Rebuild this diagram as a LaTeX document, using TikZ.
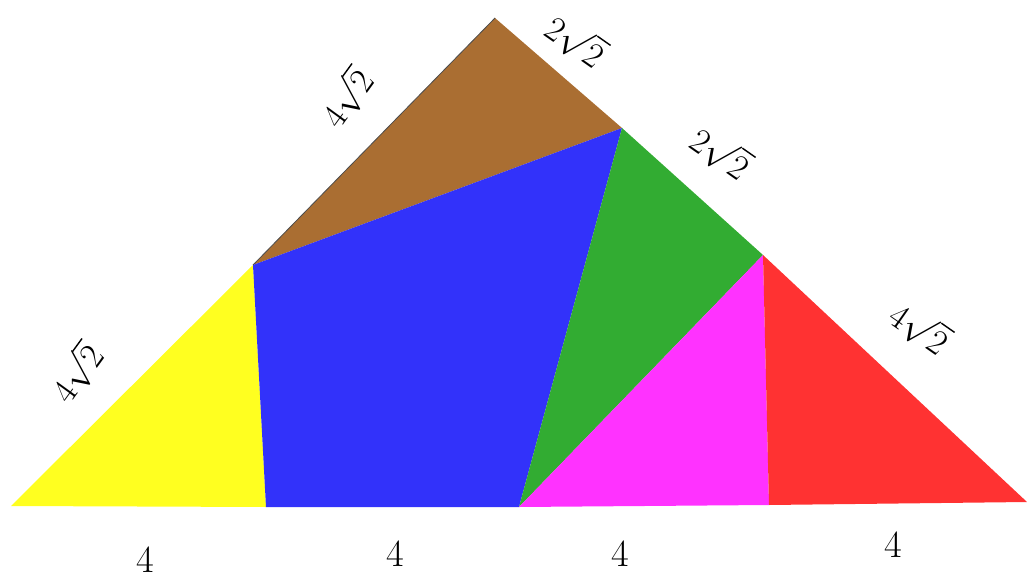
\documentclass[tikz,border=0pt]{standalone}
\usepackage{graphicx}
\usepackage{amsmath}
\definecolor{cyel}{RGB}{255,255,32}
\definecolor{cblu}{RGB}{50,50,250}
\definecolor{cbrn}{RGB}{170,110,50}
\definecolor{cgrn}{RGB}{50,172,50}
\definecolor{cmag}{RGB}{255,50,255}
\definecolor{cred}{RGB}{255,50,50}
\newcommand{\biglbl}[1]{\scalebox{1.85}{\huge $#1$}}
\newcommand{\rootlbl}[1]{\scalebox{1.7}{\huge $#1$}}
\begin{document}
\begin{tikzpicture}[x=1pt,y=-1pt,
  lbl/.style={inner sep=0pt},
  piece/.style={line join=round}]
\useasboundingbox (0,0) rectangle (1027,580);
\coordinate (A) at (11,506);
\coordinate (Y) at (253,265);
\coordinate (YB) at (266,507);
\coordinate (M) at (519,507);
\coordinate (T) at (495,18);
\coordinate (P) at (622,128);
\coordinate (Q) at (763,255);
\coordinate (R) at (769,505);
\coordinate (B) at (1027,502);
\fill[piece,cyel] (A) -- (Y) -- (YB) -- cycle;
\fill[piece,cbrn] (Y) -- (T) -- (P) -- cycle;
\fill[piece,cblu] (Y) -- (P) -- (M) -- (YB) -- cycle;
\fill[piece,cgrn] (P) -- (Q) -- (M) -- cycle;
\fill[piece,cmag] (M) -- (Q) -- (R) -- cycle;
\fill[piece,cred] (Q) -- (B) -- (R) -- cycle;
\draw[black!70,line width=0.8pt] (Y) -- (T);
\node[lbl] (l1) at (145,560) {\biglbl{4}};
\node[lbl] (l2) at (395,554) {\biglbl{4}};
\node[lbl] (l3) at (620,554) {\biglbl{4}};
\node[lbl] (l4) at (893,545) {\biglbl{4}};
\node[lbl,rotate=54] (s1) at (77,373) {\rootlbl{4\sqrt{2}}};
\node[lbl,rotate=54] (s2) at (347,98) {\rootlbl{4\sqrt{2}}};
\node[lbl,rotate=-35] (s3) at (576,41) {\rootlbl{2\sqrt{2}}};
\node[lbl,rotate=-35] (s4) at (721,153) {\rootlbl{2\sqrt{2}}};
\node[lbl,rotate=-35] (s5) at (920,328) {\rootlbl{4\sqrt{2}}};
\end{tikzpicture}
\end{document}
